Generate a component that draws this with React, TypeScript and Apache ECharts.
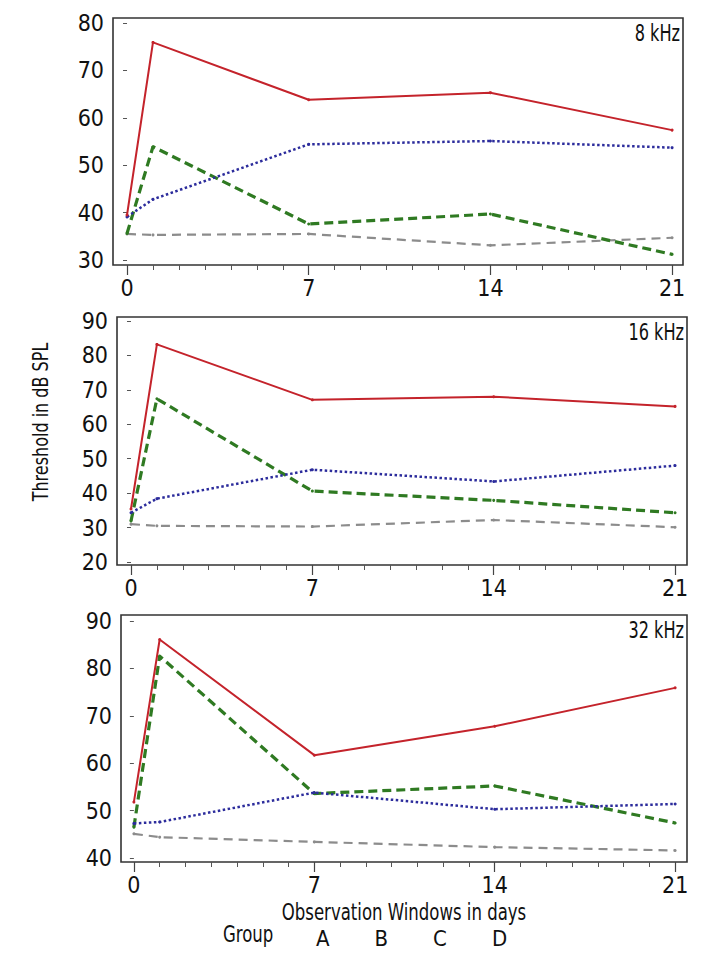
import React, { useEffect, useRef } from "react";
import * as echarts from "echarts";

// ---------- data ----------
const days = [0, 1, 7, 14, 21];
const xTickLabels = [0, 7, 14, 21];
const dayTicks = [0, 1, 2, 3, 4, 5, 6, 7, 8, 9, 10, 11, 12, 13, 14, 15, 16, 17, 18, 19, 20, 21];
const groups = ["A", "B", "C", "D"];
const panelTitles = ["8 kHz", "16 kHz", "32 kHz"];
const yTicks8 = [30, 40, 50, 60, 70, 80];
const yTicks16 = [20, 30, 40, 50, 60, 70, 80, 90];
const yTicks32 = [40, 50, 60, 70, 80, 90];

// 8 kHz
const khz8A = [39.5, 75.9, 63.8, 65.3, 57.4];
const khz8B = [39.1, 42.8, 54.4, 55.1, 53.7];
const khz8C = [35.6, 53.9, 37.6, 39.7, 31.2];
const khz8D = [35.5, 35.3, 35.5, 33.1, 34.7];
// 16 kHz
const khz16A = [35.4, 83.2, 67.1, 68.0, 65.2];
const khz16B = [34.3, 38.4, 46.8, 43.4, 48.0];
const khz16C = [31.9, 67.4, 40.6, 37.9, 34.3];
const khz16D = [31.0, 30.5, 30.3, 32.2, 30.1];
// 32 kHz
const khz32A = [51.8, 86.1, 61.7, 67.8, 75.9];
const khz32B = [47.3, 47.6, 53.8, 50.3, 51.4];
const khz32C = [46.5, 82.6, 53.6, 55.2, 47.4];
const khz32D = [45.1, 44.4, 43.4, 42.3, 41.6];

const panelData = [
  [khz8A, khz8B, khz8C, khz8D],
  [khz16A, khz16B, khz16C, khz16D],
  [khz32A, khz32B, khz32C, khz32D],
];
const panelYTicks = [yTicks8, yTicks16, yTicks32];

// ---------- layout / style ----------
const NARROW = "'Liberation Sans Narrow', 'DejaVu Sans Condensed', 'Arial Narrow', sans-serif";

const panelLayout = [
  { left: 113, right: 37, top: 18, height: 247, yMin: 28.95, yMax: 81.05, xMin: -0.54, xMax: 21.42 },
  { left: 117, right: 33, top: 317, height: 248, yMin: 19.13, yMax: 91.16, xMin: -0.54, xMax: 21.46 },
  { left: 121, right: 33, top: 615, height: 247, yMin: 39.16, yMax: 91.27, xMin: -0.5, xMax: 21.46 },
];

const seriesStyles = [
  { color: "#c4232b", type: "solid" as any, width: 2 },
  { color: "#2c2c9c", type: "dotted" as any, width: 2.5 },
  { color: "#2f7a22", type: [9, 5] as any, width: 3.2 },
  { color: "#8c8c8c", type: [9, 6] as any, width: 2.2 },
];

function label(text: string, x: number, y: number, align: string, size: number, sx: number, rotation = 0) {
  return {
    type: "text",
    x,
    y,
    rotation,
    scaleX: sx,
    style: {
      text,
      fontSize: size,
      fontFamily: NARROW,
      fill: "#111",
      align,
      verticalAlign: "middle",
      textAlign: align,
      textVerticalAlign: "middle",
    },
  };
}

export default function App() {
  const ref = useRef<HTMLDivElement>(null);

  useEffect(() => {
    if (!ref.current) return;
    const chart = echarts.init(ref.current, undefined, { renderer: "svg" });

    const grid: any[] = [];
    const xAxis: any[] = [];
    const yAxis: any[] = [];
    const series: any[] = [];
    const graphic: any[] = [];

    panelLayout.forEach((p, i) => {
      grid.push({
        left: p.left,
        right: p.right,
        top: p.top,
        height: p.height,
        show: true,
        borderColor: "#333",
        borderWidth: 1.6,
        backgroundColor: "transparent",
      });
      // main x axis: day ticks + labels
      xAxis.push({
        type: "value",
        gridIndex: i,
        position: "bottom",
        min: p.xMin,
        max: p.xMax,
        axisLine: { show: false },
        splitLine: { show: false },
        axisTick: {
          show: true,
          customValues: dayTicks,
          length: 5,
          lineStyle: { color: "#555", width: 1 },
        },
        axisLabel: {
          customValues: xTickLabels,
          margin: 11,
          fontSize: 23,
          fontFamily: NARROW,
          color: "#111",
        },
      });
      // overlay x axis: long major ticks
      xAxis.push({
        type: "value",
        gridIndex: i,
        position: "bottom",
        offset: 0,
        min: p.xMin,
        max: p.xMax,
        axisLine: { show: false },
        splitLine: { show: false },
        axisLabel: { show: false },
        axisTick: {
          show: true,
          customValues: xTickLabels,
          length: 10,
          lineStyle: { color: "#444", width: 1.2 },
        },
      });
      yAxis.push({
        type: "value",
        gridIndex: i,
        min: p.yMin,
        max: p.yMax,
        axisLine: { show: false },
        splitLine: { show: false },
        axisTick: {
          show: true,
          customValues: panelYTicks[i],
          length: 4,
          lineStyle: { color: "#555", width: 1 },
        },
        axisLabel: {
          customValues: panelYTicks[i],
          margin: 9,
          fontSize: 23,
          fontFamily: NARROW,
          color: "#111",
        },
      });

      const order = [3, 2, 1, 0];
      order.forEach((g) => {
        const st = seriesStyles[g];
        series.push({
          name: groups[g],
          type: "line",
          xAxisIndex: i * 2,
          yAxisIndex: i,
          data: days.map((d, k) => [d, panelData[i][g][k]]),
          symbol: "circle",
          symbolSize: 3,
          showSymbol: true,
          itemStyle: { color: st.color },
          lineStyle: { color: st.color, type: st.type, width: st.width },
          silent: true,
          z: 2 + (3 - g),
        });
      });

      graphic.push(label(panelTitles[i], 720 - p.right - 3, p.top + 15, "right", 23, 0.78));
    });

    graphic.push(label("Threshold in dB SPL", 40, 422, "center", 22, 0.81, Math.PI / 2));
    graphic.push(label("Observation Windows in days", 404, 912, "center", 23, 0.8));
    graphic.push(label("Group", 223, 934, "left", 23, 0.8));

    chart.setOption({
      animation: false,
      backgroundColor: "#ffffff",
      grid,
      xAxis,
      yAxis,
      series,
      graphic,
      legend: {
        data: groups,
        icon: "none",
        itemWidth: 0,
        itemHeight: 0,
        itemGap: 40,
        left: 306,
        top: 922,
        selectedMode: false,
        textStyle: { fontSize: 22, fontFamily: NARROW, color: "#111" },
      },
    });

    return () => chart.dispose();
  }, []);

  return (
    <div
      ref={ref}
      style={{ position: "fixed", left: 0, top: 0, width: 720, height: 953 }}
    />
  );
}
